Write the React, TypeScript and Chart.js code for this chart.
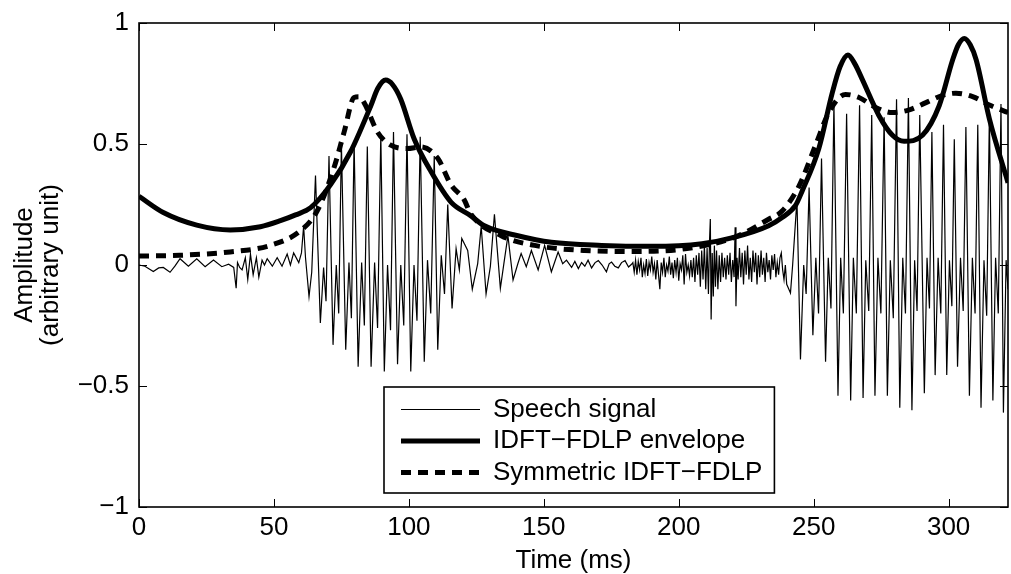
import React, { useEffect, useRef } from "react";
import { Chart, registerables } from "chart.js";

Chart.register(...registerables);

const FONT = "'Liberation Sans', Arial, Helvetica, sans-serif";
const FONT_SIZE = 26;

const xTicks = [0, 50, 100, 150, 200, 250, 300];
const yTicks = [-1, -0.5, 0, 0.5, 1];
const xMin = 0;
const xMax = 322;
const seriesLabels = ["Speech signal", "IDFT\u2212FDLP envelope", "Symmetric IDFT\u2212FDLP"];
const xTitle = "Time (ms)";
const yTitle = ["Amplitude", "(arbitrary unit)"];

// IDFT-FDLP envelope (solid)
const envelope: [number, number][] = [
  [0, 0.284], [9, 0.217], [21.4, 0.165], [33.8, 0.145], [45, 0.158], [52.4, 0.183], [58, 0.207],
  [63.6, 0.237], [71, 0.332], [78.4, 0.468], [85.9, 0.658], [88.5, 0.73], [91.4, 0.764], [94, 0.745],
  [97, 0.685], [101.9, 0.523], [108.2, 0.386], [115.6, 0.26], [123, 0.203], [128, 0.162],
  [140.4, 0.121], [152.8, 0.094], [171.4, 0.081], [190, 0.077], [208.6, 0.088], [220.8, 0.115],
  [233.3, 0.162], [238.3, 0.196], [243.2, 0.245], [245.7, 0.305], [251.9, 0.481], [256.9, 0.712],
  [259.8, 0.82], [262.7, 0.868], [265.3, 0.83], [268, 0.767], [274.2, 0.617], [279.2, 0.536],
  [283.5, 0.511], [290.3, 0.536], [296.5, 0.658], [301.5, 0.848], [303.6, 0.91], [305.8, 0.936],
  [308, 0.91], [310.2, 0.848], [315.1, 0.604], [322, 0.34],
];

// Symmetric IDFT-FDLP (dashed)
const symmetric: [number, number][] = [
  [0, 0.037], [15, 0.04], [33.8, 0.054], [48.7, 0.081], [59.9, 0.142], [66, 0.223], [72.2, 0.4],
  [76, 0.549], [79.7, 0.692], [81.5, 0.695], [83.4, 0.671], [88.4, 0.549], [93.3, 0.495],
  [99.5, 0.481], [104.5, 0.488], [110.7, 0.441], [115.6, 0.332], [120.4, 0.271], [123, 0.21],
  [134.2, 0.121], [146.6, 0.081], [165.2, 0.06], [183.8, 0.056], [202.3, 0.067], [220.8, 0.115],
  [233.3, 0.189], [238.3, 0.223], [244.5, 0.325], [250.7, 0.495], [255.6, 0.63], [261.8, 0.705],
  [266.8, 0.692], [273, 0.651], [279.2, 0.63], [285.4, 0.641], [291.6, 0.671], [297.8, 0.701],
  [302.7, 0.71], [308.9, 0.696], [315.1, 0.661], [322, 0.63],
];

// Speech signal, read segment by segment
const speechSilence: [number, number][] = [
  [0, 0], [2.2, -0.005], [5.3, -0.027], [7.3, -0.012], [9, -0.01], [11.5, -0.03], [13.3, -0.005],
  [15.2, 0.026], [18.3, -0.005], [21.4, 0.026], [24.5, -0.007], [27.6, 0.021], [30.7, -0.007],
  [33.2, 0.003], [35.1, -0.01], [36, -0.096], [36.5, 0.01], [37.3, -0.01], [38.2, -0.02],
  [39.4, 0.03], [40.3, -0.06], [41.3, 0.045], [42.3, -0.04], [43.5, 0.03], [44.4, -0.05],
  [45.6, 0.02], [46.5, 0], [47.5, 0.026], [49.4, -0.005], [51.2, 0.03], [53, -0.005],
  [54.9, 0.045], [56.1, 0], [57.3, 0.05], [59.2, 0.01], [60.2, 0.05], [61, 0.16], [61.7, 0.03],
  [63, -0.13],
];

const speechVoiced1: [number, number][] = [
  [64, -0.03], [65.4, 0.37], [67.2, -0.24], [68.4, -0.01], [69.3, -0.15], [70.4, 0.45],
  [71.9, -0.33], [73.1, 0], [74, -0.2], [75, 0.5], [76.6, -0.35], [77.8, 0.01], [78.7, -0.22],
  [79.7, 0.51], [81.2, -0.42], [82.5, 0.01], [83.5, -0.25], [84.6, 0.49], [86, -0.42],
  [87.3, 0.01], [88.4, -0.26], [89.6, 0.54], [90.9, -0.44], [92.1, 0], [93.2, -0.27],
  [94.3, 0.55], [95.8, -0.41], [97, 0], [98.1, -0.25], [99.3, 0.54], [100.7, -0.44],
  [101.9, 0], [103, -0.23], [104.2, 0.53], [105.7, -0.4], [106.9, 0.02], [108.1, -0.2],
  [109.4, 0.45], [110.7, -0.35], [112, 0.04], [113.2, -0.12], [114.4, 0.25], [116, -0.18],
  [117.5, 0.067], [118.7, -0.02], [119.6, 0.11],
];

const speechDecay: [number, number][] = [
  [121.8, 0.06], [123.5, -0.1], [125.5, 0.006], [126.8, 0.16], [128.6, -0.12], [130.2, -0.006],
  [131.7, 0.21], [133.9, -0.096], [135.2, 0.006], [136.7, 0.121], [138.6, -0.062], [140.4, 0.006],
  [141.6, 0.047], [143.5, -0.007], [145.4, 0.06], [147.9, -0.02], [150.3, 0.081], [152.8, -0.028],
  [155.3, 0.054], [157, 0.005], [158.4, 0.02], [160.3, -0.01], [161.5, 0.015], [162.8, -0.015],
  [164, 0.01], [165.2, -0.005], [166.4, 0.02], [167.7, -0.012], [169, 0.01], [170.2, 0.018],
  [171.6, 0], [173.2, -0.028], [174.2, 0.005], [175.1, 0.012], [176.3, -0.005], [177.6, -0.012],
  [178.8, 0.01], [180.1, 0.018], [181.4, -0.008], [182.6, 0.004],
];

const speechNoise: [number, number][] = [
  [183, 0.01], [183.5, -0.03], [184, 0.02], [184.5, -0.04], [185, 0.015], [185.5, -0.02],
  [186, 0.03], [186.5, -0.05], [187, 0], [187.5, -0.035], [188, 0.025], [188.5, -0.045],
  [189, 0.01], [189.5, -0.02], [190, 0.035], [190.5, -0.03], [191, 0.005], [191.5, -0.06],
  [192, 0.02], [192.5, -0.04], [193, -0.1], [193.5, 0.01], [194, -0.03], [194.5, 0.03],
  [195, -0.05], [195.5, 0], [196, -0.025], [196.5, 0.035], [197, -0.04], [197.5, 0.01],
  [198, -0.055], [198.5, 0.02], [199, -0.03], [199.5, 0.03], [200, -0.065], [200.5, 0.005],
  [201, -0.02], [201.5, 0.04], [202, -0.08], [202.5, 0.045], [203, -0.03], [203.5, 0],
  [204, -0.045], [204.5, 0.02], [205, -0.05], [205.5, 0.03], [206, -0.07], [206.5, 0.04],
  [207, -0.04], [207.5, 0.05], [208, -0.09], [208.5, 0.06], [209, -0.06], [209.5, 0.08],
  [210, -0.1], [210.5, 0.07], [211, -0.12], [211.4, 0.1], [211.7, 0.19], [212, -0.225],
  [212.4, 0.05], [212.8, -0.13], [213.2, 0.08], [213.6, -0.09], [214, 0.06], [214.5, -0.1],
  [215, 0.04], [215.5, -0.07], [216, 0.05], [216.5, -0.05], [217, 0.03], [217.5, -0.06],
  [218, 0.04], [218.5, -0.04], [219, 0.05], [219.5, -0.07], [220, 0.02], [220.5, -0.05],
  [220.9, 0.156], [221.2, -0.17], [221.6, 0.03], [222, -0.06], [222.5, 0.07], [223, -0.05],
  [223.5, 0.05], [224, -0.08], [224.5, 0.06], [225, -0.04], [225.5, 0.08], [226, -0.06],
  [226.5, 0.03], [227, -0.07], [227.5, 0.06], [228, -0.03], [228.5, 0.05], [229, -0.08],
  [229.5, 0.04], [230, -0.05], [230.5, 0.06], [231, -0.04], [231.5, 0.03], [232, -0.07],
  [232.5, 0.05], [233, -0.03], [233.5, 0.02], [234, -0.06], [234.5, 0.04], [235, -0.02],
  [235.5, 0.045], [236, -0.05], [236.5, 0.01], [237, -0.04], [237.5, 0.03], [238, 0.05],
  [238.5, -0.02], [239, -0.06], [239.5, 0], [240, -0.08], [240.8, -0.1], [241.4, -0.116],
  [242.2, 0], [243.8, 0.27],
];

const speechVoiced2: [number, number][] = [
  [245.1, -0.39], [246.3, 0], [247.2, -0.12], [248.3, 0.32], [249.7, -0.29], [250.8, 0.03],
  [251.8, -0.2], [252.9, 0.44], [254.4, -0.4], [255.4, 0.03], [256.4, -0.18], [257.5, 0.67],
  [259, -0.54], [260, 0.03], [261, -0.2], [262.2, 0.625], [263.7, -0.56], [264.7, 0.03],
  [265.8, -0.2], [267, 0.66], [268.3, -0.55], [269.3, 0.02], [270.4, -0.19], [271.5, 0.62],
  [272.7, -0.54], [273.8, 0.03], [274.9, -0.2], [276.1, 0.61], [277.3, -0.54], [278.4, 0.02],
  [279.5, -0.22], [280.7, 0.685], [281.9, -0.59], [283, 0.03], [284, -0.2], [285.1, 0.69],
  [286.4, -0.6], [287.4, 0.02], [288.3, -0.19], [289.3, 0.62], [291, -0.53], [292, 0.03],
  [292.9, -0.18], [293.8, 0.55], [295, -0.455], [296.1, 0.03], [297.1, -0.2], [298.1, 0.58],
  [299.3, -0.455], [300.3, 0.02], [301.2, -0.17], [302.1, 0.52], [303.3, -0.42], [304.4, 0.03],
  [305.4, -0.19], [306.4, 0.57], [307.7, -0.54], [308.8, 0.03], [309.8, -0.2], [310.8, 0.58],
  [312, -0.59], [313.1, 0.02], [314.1, -0.21], [315.1, 0.62], [316.4, -0.56], [317.4, 0.03],
  [318.4, -0.2], [319.4, 0.665], [320.3, -0.61], [321.3, 0.02], [322, -0.1],
];

const toXY = (pts: [number, number][]) => pts.map(([x, y]) => ({ x, y }));

const framePlugin = {
  id: "matlabFrame",
  afterDatasetsDraw(chart: any) {
    const { ctx, chartArea: a, scales } = chart;
    ctx.save();
    // inward ticks on all four sides
    ctx.strokeStyle = "#000";
    ctx.lineWidth = 1;
    ctx.beginPath();
    for (const v of xTicks) {
      const px = Math.round(scales.x.getPixelForValue(v)) + 0.5;
      ctx.moveTo(px, a.bottom);
      ctx.lineTo(px, a.bottom - 8);
      ctx.moveTo(px, a.top);
      ctx.lineTo(px, a.top + 8);
    }
    for (const v of yTicks) {
      const py = Math.round(scales.y.getPixelForValue(v)) + 0.5;
      ctx.moveTo(a.left, py);
      ctx.lineTo(a.left + 8, py);
      ctx.moveTo(a.right, py);
      ctx.lineTo(a.right - 8, py);
    }
    ctx.stroke();
    ctx.lineWidth = 1.6;
    ctx.strokeRect(a.left, a.top, a.right - a.left, a.bottom - a.top);

    // legend box
    ctx.font = `${FONT_SIZE}px ${FONT}`;
    const boxLeft = 384;
    const boxTop = 387;
    const boxBottom = 493;
    const lineX0 = 401;
    const lineX1 = 480;
    const textX = 493;
    const rows = [409.5, 441, 472.5];
    const maxW = Math.max(...seriesLabels.map((s) => ctx.measureText(s).width));
    const boxRight = textX + maxW + 12;
    ctx.fillStyle = "#fff";
    ctx.fillRect(boxLeft, boxTop, boxRight - boxLeft, boxBottom - boxTop);
    ctx.lineWidth = 1.6;
    ctx.strokeStyle = "#000";
    ctx.strokeRect(boxLeft, boxTop, boxRight - boxLeft, boxBottom - boxTop);
    const ds = chart.data.datasets;
    rows.forEach((ry, i) => {
      const d = ds[i];
      ctx.beginPath();
      ctx.lineWidth = d.borderWidth;
      ctx.setLineDash(d.borderDash || []);
      ctx.lineCap = "butt";
      ctx.moveTo(lineX0, ry);
      ctx.lineTo(lineX1, ry);
      ctx.stroke();
      ctx.setLineDash([]);
      ctx.fillStyle = "#000";
      ctx.textBaseline = "middle";
      ctx.textAlign = "left";
      ctx.fillText(d.label, textX, ry);
    });
    ctx.restore();
  },
};

export default function App() {
  const ref = useRef<HTMLCanvasElement | null>(null);
  useEffect(() => {
    if (!ref.current) return;
    const speech = [
      ...speechSilence,
      ...speechVoiced1,
      ...speechDecay,
      ...speechNoise,
      ...speechVoiced2,
    ];
    const tickFont = { family: FONT, size: FONT_SIZE, lineHeight: 1.0 };
    const chart = new Chart(ref.current, {
      type: "line",
      data: {
        datasets: [
          {
            label: seriesLabels[0],
            data: toXY(speech),
            borderColor: "#000",
            borderWidth: 1.2,
            pointRadius: 0,
            tension: 0,
            order: 2,
          },
          {
            label: seriesLabels[1],
            data: toXY(envelope),
            borderColor: "#000",
            borderWidth: 5,
            pointRadius: 0,
            cubicInterpolationMode: "monotone",
            order: 1,
          },
          {
            label: seriesLabels[2],
            data: toXY(symmetric),
            borderColor: "#000",
            borderWidth: 5,
            borderDash: [10, 7],
            borderCapStyle: "butt",
            pointRadius: 0,
            cubicInterpolationMode: "monotone",
            order: 0,
          },
        ],
      },
      options: {
        responsive: false,
        animation: false,
        devicePixelRatio: 1,
        layout: { padding: { top: 16, right: 3, bottom: 0, left: 0 } },
        plugins: { legend: { display: false }, tooltip: { enabled: false } },
        scales: {
          x: {
            type: "linear",
            min: xMin,
            max: xMax,
            afterBuildTicks: (s: any) => {
              s.ticks = xTicks.map((v) => ({ value: v }));
            },
            afterFit: (s: any) => {
              s.height = 67;
            },
            grid: { display: false, drawTicks: false },
            border: { display: false },
            ticks: {
              color: "#000",
              font: tickFont,
              padding: 8,
              maxRotation: 0,
              autoSkip: false,
              callback: (v: any) => String(v),
            },
            title: {
              display: true,
              text: xTitle,
              color: "#000",
              font: tickFont,
              padding: { top: 0, bottom: 0 },
            },
          },
          y: {
            type: "linear",
            min: -1,
            max: 1,
            afterBuildTicks: (s: any) => {
              s.ticks = yTicks.map((v) => ({ value: v }));
            },
            afterFit: (s: any) => {
              s.width = 139;
            },
            grid: { display: false, drawTicks: false },
            border: { display: false },
            ticks: {
              color: "#000",
              font: tickFont,
              padding: 10,
              autoSkip: false,
              callback: (v: any) => (v < 0 ? "\u2212" + String(Math.abs(v)) : String(v)),
            },
            title: {
              display: true,
              text: yTitle,
              color: "#000",
              font: tickFont,
              padding: { top: 12, bottom: 0 },
            },
          },
        },
      },
      plugins: [framePlugin],
    });
    return () => chart.destroy();
  }, []);
  return (
    <div style={{ position: "fixed", left: 0, top: 0, width: 1011, height: 574, background: "#fff" }}>
      <canvas ref={ref} width={1011} height={574} style={{ display: "block" }} />
    </div>
  );
}
